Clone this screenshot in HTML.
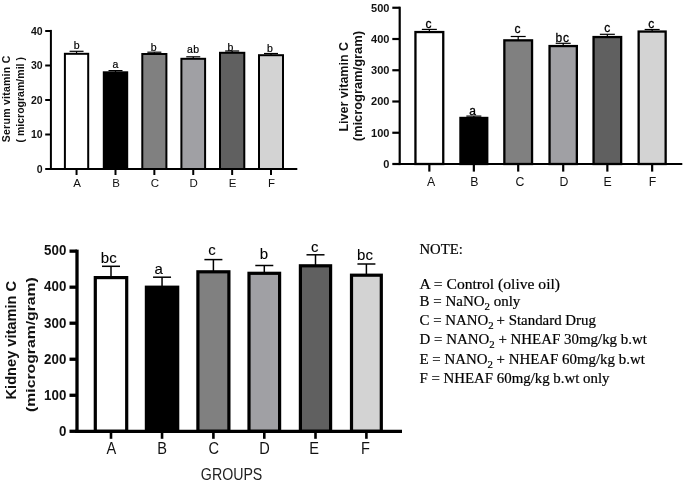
<!DOCTYPE html><html><head><meta charset="utf-8"><style>html,body{margin:0;padding:0;background:#fff}svg{display:block;will-change:transform;filter:blur(0.35px)}</style></head><body>
<svg width="685" height="482" viewBox="0 0 685 482">
<rect width="685" height="482" fill="#fff"/>
<line x1="76.55" y1="51.30" x2="76.55" y2="53.80" stroke="#000" stroke-width="1.2"/>
<line x1="69.55" y1="51.30" x2="83.55" y2="51.30" stroke="#000" stroke-width="1.2"/>
<rect x="64.90" y="53.80" width="23.30" height="115.20" fill="#ffffff" stroke="#000" stroke-width="2"/>
<line x1="76.55" y1="169.00" x2="76.55" y2="175.00" stroke="#000" stroke-width="2"/>
<text transform="translate(77.05,187.00) scale(1.0,1)" text-anchor="middle" font-family='"Liberation Sans", sans-serif' font-size="11.5" fill="#111">A</text>
<line x1="115.50" y1="70.60" x2="115.50" y2="72.30" stroke="#000" stroke-width="1.2"/>
<line x1="108.50" y1="70.60" x2="122.50" y2="70.60" stroke="#000" stroke-width="1.2"/>
<rect x="103.80" y="72.30" width="23.40" height="96.70" fill="#000000" stroke="#000" stroke-width="2"/>
<line x1="115.50" y1="169.00" x2="115.50" y2="175.00" stroke="#000" stroke-width="2"/>
<text transform="translate(116.00,187.00) scale(1.0,1)" text-anchor="middle" font-family='"Liberation Sans", sans-serif' font-size="11.5" fill="#111">B</text>
<line x1="154.35" y1="52.20" x2="154.35" y2="54.00" stroke="#000" stroke-width="1.2"/>
<line x1="147.35" y1="52.20" x2="161.35" y2="52.20" stroke="#000" stroke-width="1.2"/>
<rect x="142.30" y="54.00" width="24.10" height="115.00" fill="#808080" stroke="#000" stroke-width="2"/>
<line x1="154.35" y1="169.00" x2="154.35" y2="175.00" stroke="#000" stroke-width="2"/>
<text transform="translate(154.85,187.00) scale(1.0,1)" text-anchor="middle" font-family='"Liberation Sans", sans-serif' font-size="11.5" fill="#111">C</text>
<line x1="193.25" y1="56.80" x2="193.25" y2="58.80" stroke="#000" stroke-width="1.2"/>
<line x1="186.25" y1="56.80" x2="200.25" y2="56.80" stroke="#000" stroke-width="1.2"/>
<rect x="181.40" y="58.80" width="23.70" height="110.20" fill="#a0a0a4" stroke="#000" stroke-width="2"/>
<line x1="193.25" y1="169.00" x2="193.25" y2="175.00" stroke="#000" stroke-width="2"/>
<text transform="translate(193.75,187.00) scale(1.0,1)" text-anchor="middle" font-family='"Liberation Sans", sans-serif' font-size="11.5" fill="#111">D</text>
<line x1="232.15" y1="51.00" x2="232.15" y2="52.80" stroke="#000" stroke-width="1.2"/>
<line x1="225.15" y1="51.00" x2="239.15" y2="51.00" stroke="#000" stroke-width="1.2"/>
<rect x="220.00" y="52.80" width="24.30" height="116.20" fill="#606060" stroke="#000" stroke-width="2"/>
<line x1="232.15" y1="169.00" x2="232.15" y2="175.00" stroke="#000" stroke-width="2"/>
<text transform="translate(232.65,187.00) scale(1.0,1)" text-anchor="middle" font-family='"Liberation Sans", sans-serif' font-size="11.5" fill="#111">E</text>
<line x1="271.00" y1="53.50" x2="271.00" y2="55.20" stroke="#000" stroke-width="1.2"/>
<line x1="264.00" y1="53.50" x2="278.00" y2="53.50" stroke="#000" stroke-width="1.2"/>
<rect x="259.00" y="55.20" width="24.00" height="113.80" fill="#d3d3d3" stroke="#000" stroke-width="2"/>
<line x1="271.00" y1="169.00" x2="271.00" y2="175.00" stroke="#000" stroke-width="2"/>
<text transform="translate(271.50,187.00) scale(1.0,1)" text-anchor="middle" font-family='"Liberation Sans", sans-serif' font-size="11.5" fill="#111">F</text>
<text x="76.55" y="49.30" text-anchor="middle" font-family='"Liberation Sans", sans-serif' font-size="10.5" letter-spacing="0" fill="#000" stroke="#000" stroke-width="0.2">b</text>
<text x="115.50" y="68.40" text-anchor="middle" font-family='"Liberation Sans", sans-serif' font-size="10.5" letter-spacing="0" fill="#000" stroke="#000" stroke-width="0.2">a</text>
<text x="153.65" y="50.90" text-anchor="middle" font-family='"Liberation Sans", sans-serif' font-size="10.5" letter-spacing="0" fill="#000" stroke="#000" stroke-width="0.2">b</text>
<text x="193.25" y="53.40" text-anchor="middle" font-family='"Liberation Sans", sans-serif' font-size="10.5" letter-spacing="0.3" fill="#000" stroke="#000" stroke-width="0.2">ab</text>
<text x="230.45" y="50.50" text-anchor="middle" font-family='"Liberation Sans", sans-serif' font-size="10.5" letter-spacing="0" fill="#000" stroke="#000" stroke-width="0.2">b</text>
<text x="270.00" y="51.80" text-anchor="middle" font-family='"Liberation Sans", sans-serif' font-size="10.5" letter-spacing="0" fill="#000" stroke="#000" stroke-width="0.2">b</text>
<line x1="50.90" y1="29.90" x2="50.90" y2="170.00" stroke="#000" stroke-width="2"/>
<line x1="49.90" y1="169.00" x2="297.30" y2="169.00" stroke="#000" stroke-width="2"/>
<line x1="45.20" y1="169.00" x2="50.90" y2="169.00" stroke="#000" stroke-width="2"/>
<text x="42.60" y="172.70" text-anchor="end" font-family='"Liberation Sans", sans-serif' font-weight="bold" font-size="10.5" fill="#111">0</text>
<line x1="45.20" y1="134.50" x2="50.90" y2="134.50" stroke="#000" stroke-width="2"/>
<text x="42.60" y="138.20" text-anchor="end" font-family='"Liberation Sans", sans-serif' font-weight="bold" font-size="10.5" fill="#111">10</text>
<line x1="45.20" y1="100.00" x2="50.90" y2="100.00" stroke="#000" stroke-width="2"/>
<text x="42.60" y="103.70" text-anchor="end" font-family='"Liberation Sans", sans-serif' font-weight="bold" font-size="10.5" fill="#111">20</text>
<line x1="45.20" y1="65.50" x2="50.90" y2="65.50" stroke="#000" stroke-width="2"/>
<text x="42.60" y="69.20" text-anchor="end" font-family='"Liberation Sans", sans-serif' font-weight="bold" font-size="10.5" fill="#111">30</text>
<line x1="45.20" y1="31.00" x2="50.90" y2="31.00" stroke="#000" stroke-width="2"/>
<text x="42.60" y="34.70" text-anchor="end" font-family='"Liberation Sans", sans-serif' font-weight="bold" font-size="10.5" fill="#111">40</text>
<text transform="translate(10.20,99.00) rotate(-90)" text-anchor="middle" font-family='"Liberation Sans", sans-serif' font-weight="bold" font-size="10.5" fill="#111" stroke="#111" stroke-width="0" textLength="86.50" lengthAdjust="spacing">Serum vitamin C</text>
<text transform="translate(23.70,99.80) rotate(-90)" text-anchor="middle" font-family='"Liberation Sans", sans-serif' font-weight="bold" font-size="10.5" fill="#111" stroke="#111" stroke-width="0" textLength="85.50" lengthAdjust="spacing">( microgram/mil )</text>
<line x1="429.35" y1="29.40" x2="429.35" y2="31.90" stroke="#000" stroke-width="1.2"/>
<line x1="421.85" y1="29.40" x2="436.85" y2="29.40" stroke="#000" stroke-width="1.2"/>
<rect x="415.45" y="32.05" width="27.80" height="131.95" fill="#ffffff" stroke="#000" stroke-width="2.3"/>
<line x1="429.35" y1="164.00" x2="429.35" y2="171.60" stroke="#000" stroke-width="2.2"/>
<text transform="translate(431.00,186.30) scale(1.0,1)" text-anchor="middle" font-family='"Liberation Sans", sans-serif' font-size="12.3" fill="#111">A</text>
<line x1="473.85" y1="116.10" x2="473.85" y2="117.80" stroke="#000" stroke-width="1.2"/>
<line x1="466.35" y1="116.10" x2="481.35" y2="116.10" stroke="#000" stroke-width="1.2"/>
<rect x="460.45" y="117.95" width="26.80" height="46.05" fill="#000000" stroke="#000" stroke-width="2.3"/>
<line x1="473.85" y1="164.00" x2="473.85" y2="171.60" stroke="#000" stroke-width="2.2"/>
<text transform="translate(474.40,186.30) scale(1.0,1)" text-anchor="middle" font-family='"Liberation Sans", sans-serif' font-size="12.3" fill="#111">B</text>
<line x1="518.20" y1="36.50" x2="518.20" y2="40.20" stroke="#000" stroke-width="1.2"/>
<line x1="510.70" y1="36.50" x2="525.70" y2="36.50" stroke="#000" stroke-width="1.2"/>
<rect x="504.35" y="40.35" width="27.70" height="123.65" fill="#808080" stroke="#000" stroke-width="2.3"/>
<line x1="518.20" y1="164.00" x2="518.20" y2="171.60" stroke="#000" stroke-width="2.2"/>
<text transform="translate(520.00,186.30) scale(1.0,1)" text-anchor="middle" font-family='"Liberation Sans", sans-serif' font-size="12.3" fill="#111">C</text>
<line x1="563.20" y1="43.30" x2="563.20" y2="45.90" stroke="#000" stroke-width="1.2"/>
<line x1="555.70" y1="43.30" x2="570.70" y2="43.30" stroke="#000" stroke-width="1.2"/>
<rect x="549.55" y="46.05" width="27.30" height="117.95" fill="#a0a0a4" stroke="#000" stroke-width="2.3"/>
<line x1="563.20" y1="164.00" x2="563.20" y2="171.60" stroke="#000" stroke-width="2.2"/>
<text transform="translate(564.00,186.30) scale(1.0,1)" text-anchor="middle" font-family='"Liberation Sans", sans-serif' font-size="12.3" fill="#111">D</text>
<line x1="607.35" y1="34.30" x2="607.35" y2="36.90" stroke="#000" stroke-width="1.2"/>
<line x1="599.85" y1="34.30" x2="614.85" y2="34.30" stroke="#000" stroke-width="1.2"/>
<rect x="593.55" y="37.05" width="27.60" height="126.95" fill="#606060" stroke="#000" stroke-width="2.3"/>
<line x1="607.35" y1="164.00" x2="607.35" y2="171.60" stroke="#000" stroke-width="2.2"/>
<text transform="translate(607.50,186.30) scale(1.0,1)" text-anchor="middle" font-family='"Liberation Sans", sans-serif' font-size="12.3" fill="#111">E</text>
<line x1="652.15" y1="29.50" x2="652.15" y2="31.40" stroke="#000" stroke-width="1.2"/>
<line x1="644.65" y1="29.50" x2="659.65" y2="29.50" stroke="#000" stroke-width="1.2"/>
<rect x="638.65" y="31.55" width="27.00" height="132.45" fill="#d3d3d3" stroke="#000" stroke-width="2.3"/>
<line x1="652.15" y1="164.00" x2="652.15" y2="171.60" stroke="#000" stroke-width="2.2"/>
<text transform="translate(652.60,186.30) scale(1.0,1)" text-anchor="middle" font-family='"Liberation Sans", sans-serif' font-size="12.3" fill="#111">F</text>
<text x="428.60" y="27.60" text-anchor="middle" font-family='"Liberation Sans", sans-serif' font-size="12" letter-spacing="0" fill="#000" stroke="#000" stroke-width="0.3">c</text>
<text x="472.70" y="114.90" text-anchor="middle" font-family='"Liberation Sans", sans-serif' font-size="12" letter-spacing="0" fill="#000" stroke="#000" stroke-width="0.3">a</text>
<text x="517.50" y="33.10" text-anchor="middle" font-family='"Liberation Sans", sans-serif' font-size="12" letter-spacing="0" fill="#000" stroke="#000" stroke-width="0.3">c</text>
<text x="562.70" y="42.40" text-anchor="middle" font-family='"Liberation Sans", sans-serif' font-size="12" letter-spacing="0.8" fill="#000" stroke="#000" stroke-width="0.3">bc</text>
<text x="607.20" y="32.30" text-anchor="middle" font-family='"Liberation Sans", sans-serif' font-size="12" letter-spacing="0" fill="#000" stroke="#000" stroke-width="0.3">c</text>
<text x="651.20" y="27.60" text-anchor="middle" font-family='"Liberation Sans", sans-serif' font-size="12" letter-spacing="0" fill="#000" stroke="#000" stroke-width="0.3">c</text>
<line x1="399.70" y1="6.70" x2="399.70" y2="165.10" stroke="#000" stroke-width="2.2"/>
<line x1="398.60" y1="164.00" x2="682.30" y2="164.00" stroke="#000" stroke-width="2.2"/>
<line x1="392.30" y1="164.00" x2="399.70" y2="164.00" stroke="#000" stroke-width="2.2"/>
<text x="389.40" y="167.90" text-anchor="end" font-family='"Liberation Sans", sans-serif' font-weight="bold" font-size="11" fill="#111">0</text>
<line x1="392.30" y1="132.75" x2="399.70" y2="132.75" stroke="#000" stroke-width="2.2"/>
<text x="389.40" y="136.65" text-anchor="end" font-family='"Liberation Sans", sans-serif' font-weight="bold" font-size="11" fill="#111">100</text>
<line x1="392.30" y1="101.50" x2="399.70" y2="101.50" stroke="#000" stroke-width="2.2"/>
<text x="389.40" y="105.40" text-anchor="end" font-family='"Liberation Sans", sans-serif' font-weight="bold" font-size="11" fill="#111">200</text>
<line x1="392.30" y1="70.25" x2="399.70" y2="70.25" stroke="#000" stroke-width="2.2"/>
<text x="389.40" y="74.15" text-anchor="end" font-family='"Liberation Sans", sans-serif' font-weight="bold" font-size="11" fill="#111">300</text>
<line x1="392.30" y1="39.00" x2="399.70" y2="39.00" stroke="#000" stroke-width="2.2"/>
<text x="389.40" y="42.90" text-anchor="end" font-family='"Liberation Sans", sans-serif' font-weight="bold" font-size="11" fill="#111">400</text>
<line x1="392.30" y1="7.75" x2="399.70" y2="7.75" stroke="#000" stroke-width="2.2"/>
<text x="389.40" y="11.65" text-anchor="end" font-family='"Liberation Sans", sans-serif' font-weight="bold" font-size="11" fill="#111">500</text>
<text transform="translate(347.60,86.75) rotate(-90)" text-anchor="middle" font-family='"Liberation Sans", sans-serif' font-weight="bold" font-size="12.5" fill="#111" stroke="#111" stroke-width="0" textLength="89.70" lengthAdjust="spacingAndGlyphs">Liver vitamin C</text>
<text transform="translate(362.20,86.20) rotate(-90)" text-anchor="middle" font-family='"Liberation Sans", sans-serif' font-weight="bold" font-size="12.5" fill="#111" stroke="#111" stroke-width="0" textLength="110.30" lengthAdjust="spacingAndGlyphs">(microgram/gram)</text>
<line x1="111.00" y1="266.30" x2="111.00" y2="277.00" stroke="#000" stroke-width="1.5"/>
<line x1="102.00" y1="266.30" x2="120.00" y2="266.30" stroke="#000" stroke-width="1.5"/>
<rect x="95.30" y="277.60" width="31.40" height="153.70" fill="#ffffff" stroke="#000" stroke-width="3.2"/>
<line x1="111.00" y1="431.30" x2="111.00" y2="438.80" stroke="#000" stroke-width="2.6"/>
<text transform="translate(111.30,453.80) scale(0.885,1)" text-anchor="middle" font-family='"Liberation Sans", sans-serif' font-size="16.5" fill="#111">A</text>
<line x1="162.05" y1="277.20" x2="162.05" y2="286.60" stroke="#000" stroke-width="1.5"/>
<line x1="153.05" y1="277.20" x2="171.05" y2="277.20" stroke="#000" stroke-width="1.5"/>
<rect x="146.40" y="287.20" width="31.30" height="144.10" fill="#000000" stroke="#000" stroke-width="3.2"/>
<line x1="162.05" y1="431.30" x2="162.05" y2="438.80" stroke="#000" stroke-width="2.6"/>
<text transform="translate(162.20,453.80) scale(0.885,1)" text-anchor="middle" font-family='"Liberation Sans", sans-serif' font-size="16.5" fill="#111">B</text>
<line x1="213.40" y1="259.60" x2="213.40" y2="271.20" stroke="#000" stroke-width="1.5"/>
<line x1="204.40" y1="259.60" x2="222.40" y2="259.60" stroke="#000" stroke-width="1.5"/>
<rect x="197.90" y="271.80" width="31.00" height="159.50" fill="#808080" stroke="#000" stroke-width="3.2"/>
<line x1="213.40" y1="431.30" x2="213.40" y2="438.80" stroke="#000" stroke-width="2.6"/>
<text transform="translate(213.80,453.80) scale(0.885,1)" text-anchor="middle" font-family='"Liberation Sans", sans-serif' font-size="16.5" fill="#111">C</text>
<line x1="264.30" y1="265.50" x2="264.30" y2="272.70" stroke="#000" stroke-width="1.5"/>
<line x1="255.30" y1="265.50" x2="273.30" y2="265.50" stroke="#000" stroke-width="1.5"/>
<rect x="249.00" y="273.30" width="30.60" height="158.00" fill="#a0a0a4" stroke="#000" stroke-width="3.2"/>
<line x1="264.30" y1="431.30" x2="264.30" y2="438.80" stroke="#000" stroke-width="2.6"/>
<text transform="translate(264.60,453.80) scale(0.885,1)" text-anchor="middle" font-family='"Liberation Sans", sans-serif' font-size="16.5" fill="#111">D</text>
<line x1="315.50" y1="254.80" x2="315.50" y2="265.20" stroke="#000" stroke-width="1.5"/>
<line x1="306.50" y1="254.80" x2="324.50" y2="254.80" stroke="#000" stroke-width="1.5"/>
<rect x="300.40" y="265.80" width="30.20" height="165.50" fill="#606060" stroke="#000" stroke-width="3.2"/>
<line x1="315.50" y1="431.30" x2="315.50" y2="438.80" stroke="#000" stroke-width="2.6"/>
<text transform="translate(314.00,453.80) scale(0.885,1)" text-anchor="middle" font-family='"Liberation Sans", sans-serif' font-size="16.5" fill="#111">E</text>
<line x1="366.40" y1="264.00" x2="366.40" y2="274.60" stroke="#000" stroke-width="1.5"/>
<line x1="357.40" y1="264.00" x2="375.40" y2="264.00" stroke="#000" stroke-width="1.5"/>
<rect x="351.50" y="275.20" width="29.80" height="156.10" fill="#d3d3d3" stroke="#000" stroke-width="3.2"/>
<line x1="366.40" y1="431.30" x2="366.40" y2="438.80" stroke="#000" stroke-width="2.6"/>
<text transform="translate(365.50,453.80) scale(0.885,1)" text-anchor="middle" font-family='"Liberation Sans", sans-serif' font-size="16.5" fill="#111">F</text>
<text x="108.90" y="263.40" text-anchor="middle" font-family='"Liberation Sans", sans-serif' font-size="15" letter-spacing="0.3" fill="#000" stroke="#000" stroke-width="0.1">bc</text>
<text x="158.60" y="273.50" text-anchor="middle" font-family='"Liberation Sans", sans-serif' font-size="15" letter-spacing="0" fill="#000" stroke="#000" stroke-width="0.1">a</text>
<text x="212.10" y="254.80" text-anchor="middle" font-family='"Liberation Sans", sans-serif' font-size="15" letter-spacing="0" fill="#000" stroke="#000" stroke-width="0.1">c</text>
<text x="263.90" y="259.30" text-anchor="middle" font-family='"Liberation Sans", sans-serif' font-size="15" letter-spacing="0" fill="#000" stroke="#000" stroke-width="0.1">b</text>
<text x="314.70" y="252.30" text-anchor="middle" font-family='"Liberation Sans", sans-serif' font-size="15" letter-spacing="0" fill="#000" stroke="#000" stroke-width="0.1">c</text>
<text x="365.20" y="259.80" text-anchor="middle" font-family='"Liberation Sans", sans-serif' font-size="15" letter-spacing="0.3" fill="#000" stroke="#000" stroke-width="0.1">bc</text>
<line x1="77.00" y1="249.65" x2="77.00" y2="432.95" stroke="#000" stroke-width="3.3"/>
<line x1="75.35" y1="431.30" x2="402.00" y2="431.30" stroke="#000" stroke-width="3.3"/>
<line x1="69.50" y1="431.30" x2="77.00" y2="431.30" stroke="#000" stroke-width="3.3"/>
<text x="66.30" y="435.60" text-anchor="end" font-family='"Liberation Sans", sans-serif' font-weight="bold" font-size="15.5" fill="#111" textLength="7.40" lengthAdjust="spacingAndGlyphs">0</text>
<line x1="69.50" y1="395.27" x2="77.00" y2="395.27" stroke="#000" stroke-width="3.3"/>
<text x="66.30" y="399.57" text-anchor="end" font-family='"Liberation Sans", sans-serif' font-weight="bold" font-size="15.5" fill="#111" textLength="22.20" lengthAdjust="spacingAndGlyphs">100</text>
<line x1="69.50" y1="359.24" x2="77.00" y2="359.24" stroke="#000" stroke-width="3.3"/>
<text x="66.30" y="363.54" text-anchor="end" font-family='"Liberation Sans", sans-serif' font-weight="bold" font-size="15.5" fill="#111" textLength="22.20" lengthAdjust="spacingAndGlyphs">200</text>
<line x1="69.50" y1="323.21" x2="77.00" y2="323.21" stroke="#000" stroke-width="3.3"/>
<text x="66.30" y="327.51" text-anchor="end" font-family='"Liberation Sans", sans-serif' font-weight="bold" font-size="15.5" fill="#111" textLength="22.20" lengthAdjust="spacingAndGlyphs">300</text>
<line x1="69.50" y1="287.18" x2="77.00" y2="287.18" stroke="#000" stroke-width="3.3"/>
<text x="66.30" y="291.48" text-anchor="end" font-family='"Liberation Sans", sans-serif' font-weight="bold" font-size="15.5" fill="#111" textLength="22.20" lengthAdjust="spacingAndGlyphs">400</text>
<line x1="69.50" y1="251.15" x2="77.00" y2="251.15" stroke="#000" stroke-width="3.3"/>
<text x="66.30" y="255.45" text-anchor="end" font-family='"Liberation Sans", sans-serif' font-weight="bold" font-size="15.5" fill="#111" textLength="22.20" lengthAdjust="spacingAndGlyphs">500</text>
<text transform="translate(16.20,340.20) rotate(-90)" text-anchor="middle" font-family='"Liberation Sans", sans-serif' font-weight="bold" font-size="13.8" fill="#111" stroke="#111" stroke-width="0" textLength="118.50" lengthAdjust="spacingAndGlyphs">Kidney vitamin C</text>
<text transform="translate(34.60,344.60) rotate(-90)" text-anchor="middle" font-family='"Liberation Sans", sans-serif' font-weight="bold" font-size="13.2" fill="#111" stroke="#111" stroke-width="0" textLength="134.70" lengthAdjust="spacingAndGlyphs">(microgram/gram)</text>
<text x="231.6" y="479.5" text-anchor="middle" font-family='"Liberation Sans", sans-serif'  font-size="17" fill="#222" textLength="61.5" lengthAdjust="spacingAndGlyphs">GROUPS</text>
<text x="419.5" y="253.9" font-family='"Liberation Serif", serif' font-size="14.5" fill="#000" stroke="#000" stroke-width="0.2" textLength="43.30" lengthAdjust="spacingAndGlyphs">NOTE:</text>
<text x="419.5" y="288.5" font-family='"Liberation Serif", serif' font-size="14.5" fill="#000" stroke="#000" stroke-width="0.2" textLength="140.50" lengthAdjust="spacingAndGlyphs">A = Control (olive oil)</text>
<text x="419.5" y="306.1" font-family='"Liberation Serif", serif' font-size="14.5" fill="#000" stroke="#000" stroke-width="0.2" textLength="100.80" lengthAdjust="spacingAndGlyphs">B = NaNO<tspan dy="3.5" font-size="10.5">2</tspan><tspan dy="-3.5"> only</tspan></text>
<text x="419.5" y="325.2" font-family='"Liberation Serif", serif' font-size="14.5" fill="#000" stroke="#000" stroke-width="0.2" textLength="176.40" lengthAdjust="spacingAndGlyphs">C = NANO<tspan dy="3.5" font-size="10.5">2</tspan><tspan dy="-3.5">&#8201;+ Standard Drug</tspan></text>
<text x="419.5" y="344.3" font-family='"Liberation Serif", serif' font-size="14.5" fill="#000" stroke="#000" stroke-width="0.2" textLength="227.40" lengthAdjust="spacingAndGlyphs">D = NANO<tspan dy="3.5" font-size="10.5">2</tspan><tspan dy="-3.5"> + NHEAF 30mg/kg b.wt</tspan></text>
<text x="419.5" y="364.2" font-family='"Liberation Serif", serif' font-size="14.5" fill="#000" stroke="#000" stroke-width="0.2" textLength="225.30" lengthAdjust="spacingAndGlyphs">E = NANO<tspan dy="3.5" font-size="10.5">2</tspan><tspan dy="-3.5"> + NHEAF 60mg/kg b.wt</tspan></text>
<text x="419.5" y="382.6" font-family='"Liberation Serif", serif' font-size="14.5" fill="#000" stroke="#000" stroke-width="0.2" textLength="190.00" lengthAdjust="spacingAndGlyphs">F = NHEAF 60mg/kg b.wt only</text>
</svg></body></html>
